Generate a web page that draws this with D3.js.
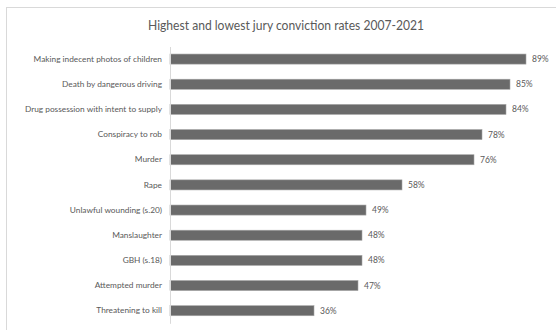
<!DOCTYPE html>
<html><head><meta charset="utf-8">
<script src="https://cdn.jsdelivr.net/npm/d3@7"></script>
<style>
html,body{margin:0;padding:0;background:#fff;}
svg{display:block;font-family:Lato,"Open Sans",sans-serif;}
</style></head>
<body>
<svg id="chart" width="556" height="330"></svg>
<script>
const categories = [
  "Making indecent photos of children",
  "Death by dangerous driving",
  "Drug possession with intent to supply",
  "Conspiracy to rob",
  "Murder",
  "Rape",
  "Unlawful wounding (s.20)",
  "Manslaughter",
  "GBH (s.18)",
  "Attempted murder",
  "Threatening to kill"
];
const rates = [89, 85, 84, 78, 76, 58, 49, 48, 48, 47, 36];
const titleText = "Highest and lowest jury conviction rates 2007-2021";

const svg = d3.select("#chart");
// chart frame
svg.append("rect").attr("x", 6.5).attr("y", 7.5).attr("width", 600).attr("height", 400)
  .attr("fill", "#fff").attr("stroke", "#d9d9d9").attr("stroke-width", 1);

svg.append("text").attr("x", 286).attr("y", 30).attr("text-anchor", "middle")
  .attr("font-size", 13.5).attr("fill", "#595959")
  .attr("textLength", 276).attr("lengthAdjust", "spacingAndGlyphs").text(titleText);

const x = d3.scaleLinear().domain([0, 100]).range([170, 570]);
const y = d3.scaleBand().domain(categories).range([46.5, 323.3]).paddingInner(0.6).paddingOuter(0.3);

const g = svg.append("g");
g.selectAll("rect.bar").data(categories).join("rect").attr("class", "bar")
  .attr("x", x(0)).attr("y", d => y(d))
  .attr("width", (d, i) => x(rates[i]) - x(0)).attr("height", y.bandwidth())
  .attr("fill", "#6a6a6a").attr("stroke", "#a6a6a6").attr("stroke-width", 0.6);

g.selectAll("text.val").data(categories).join("text").attr("class", "val")
  .attr("x", (d, i) => x(rates[i]) + 6).attr("y", d => y(d) + y.bandwidth() / 2)
  .attr("dy", "0.35em").attr("font-size", 8.5).attr("fill", "#595959")
  .text((d, i) => rates[i] + "%");

const yAxis = d3.axisLeft(y).tickSize(0).tickPadding(8);
const ag = svg.append("g").attr("transform", `translate(${x(0)},0)`).call(yAxis);
ag.select(".domain").attr("stroke", "#d9d9d9");
ag.selectAll("text").attr("font-size", 8.3).attr("fill", "#595959").attr("font-family", "Lato,'Open Sans',sans-serif");
</script>
</body></html>
